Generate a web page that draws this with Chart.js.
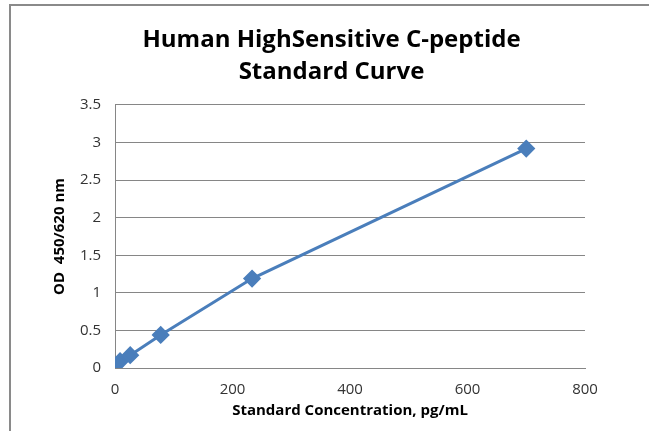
<!DOCTYPE html>
<html>
<head>
<meta charset="utf-8">
<script src="https://cdn.jsdelivr.net/npm/chart.js@4/dist/chart.umd.min.js"></script>
<style>
  html, body { margin: 0; padding: 0; background: #fff; }
  #chart { display: block; }
</style>
</head>
<body>
<canvas id="chart" width="649" height="431"></canvas>
<script>
const concentrations = [0, 8.6, 25.9, 77.8, 233.3, 700];
const odValues = [0.03, 0.09, 0.17, 0.44, 1.19, 2.92];
const titleLines = ['Human HighSensitive C-peptide', 'Standard Curve'];
const xTitle = 'Standard Concentration, pg/mL';
const yTitle = 'OD  450/620 nm';

const points = concentrations.map((x, i) => ({ x, y: odValues[i] }));

// excel-style frame on the left and top edges
const framePlugin = {
    id: 'frame',
    afterDraw(chart) {
        const ctx = chart.ctx;
        ctx.save();
        ctx.strokeStyle = '#8a8a8a';
        ctx.lineWidth = 2;
        ctx.beginPath();
        ctx.moveTo(10, 431);
        ctx.lineTo(10, 5);
        ctx.lineTo(649, 5);
        ctx.stroke();
        ctx.restore();
    }
};

const family = '"Open Sans", sans-serif';
const tickFont = { family, size: 15 };
const axisTitleFont = { family, size: 15, weight: 'bold' };

new Chart(document.getElementById('chart'), {
    type: 'scatter',
    data: {
        datasets: [{
            data: points,
            showLine: true,
            borderColor: '#4a7ebb',
            backgroundColor: '#4a7ebb',
            borderWidth: 3,
            pointStyle: 'rectRot',
            pointRadius: 7,
            pointHoverRadius: 7
        }]
    },
    options: {
        responsive: false,
        animation: false,
        layout: { padding: { left: 14, right: 0, top: 0, bottom: 0 } },
        plugins: {
            legend: { display: false },
            tooltip: { enabled: false },
            title: {
                display: true,
                text: titleLines,
                color: '#000',
                font: { family, size: 24, weight: 'bold', lineHeight: 1.333 },
                padding: { top: 24, bottom: 17 }
            }
        },
        scales: {
            x: {
                type: 'linear',
                min: 0,
                max: 800,
                ticks: {
                    stepSize: 200,
                    color: '#333',
                    font: tickFont,
                    padding: 13
                },
                grid: { display: false, drawTicks: false },
                border: { display: true, color: '#868686', width: 1 },
                title: {
                    display: true,
                    text: xTitle,
                    color: '#000',
                    font: axisTitleFont,
                    padding: { top: 0, bottom: 11 }
                },
                afterFit(scale) { scale.height = 63; }
            },
            y: {
                min: 0,
                max: 3.5,
                ticks: {
                    stepSize: 0.5,
                    color: '#333',
                    font: tickFont,
                    padding: 14,
                    callback: v => String(v)
                },
                grid: { color: '#868686', lineWidth: 1, drawTicks: false },
                border: { display: true, color: '#868686', width: 1 },
                title: {
                    display: true,
                    text: yTitle,
                    color: '#000',
                    font: axisTitleFont,
                    padding: { top: 37, bottom: 0 }
                },
                afterFit(scale) { scale.width = 101; }
            },
            // empty right-hand scale only reserves the blank margin of the original
            yRight: {
                position: 'right',
                display: true,
                ticks: { display: false },
                grid: { display: false, drawTicks: false },
                border: { display: false },
                afterFit(scale) { scale.width = 64; }
            }
        }
    },
    plugins: [framePlugin]
});
</script>
</body>
</html>
